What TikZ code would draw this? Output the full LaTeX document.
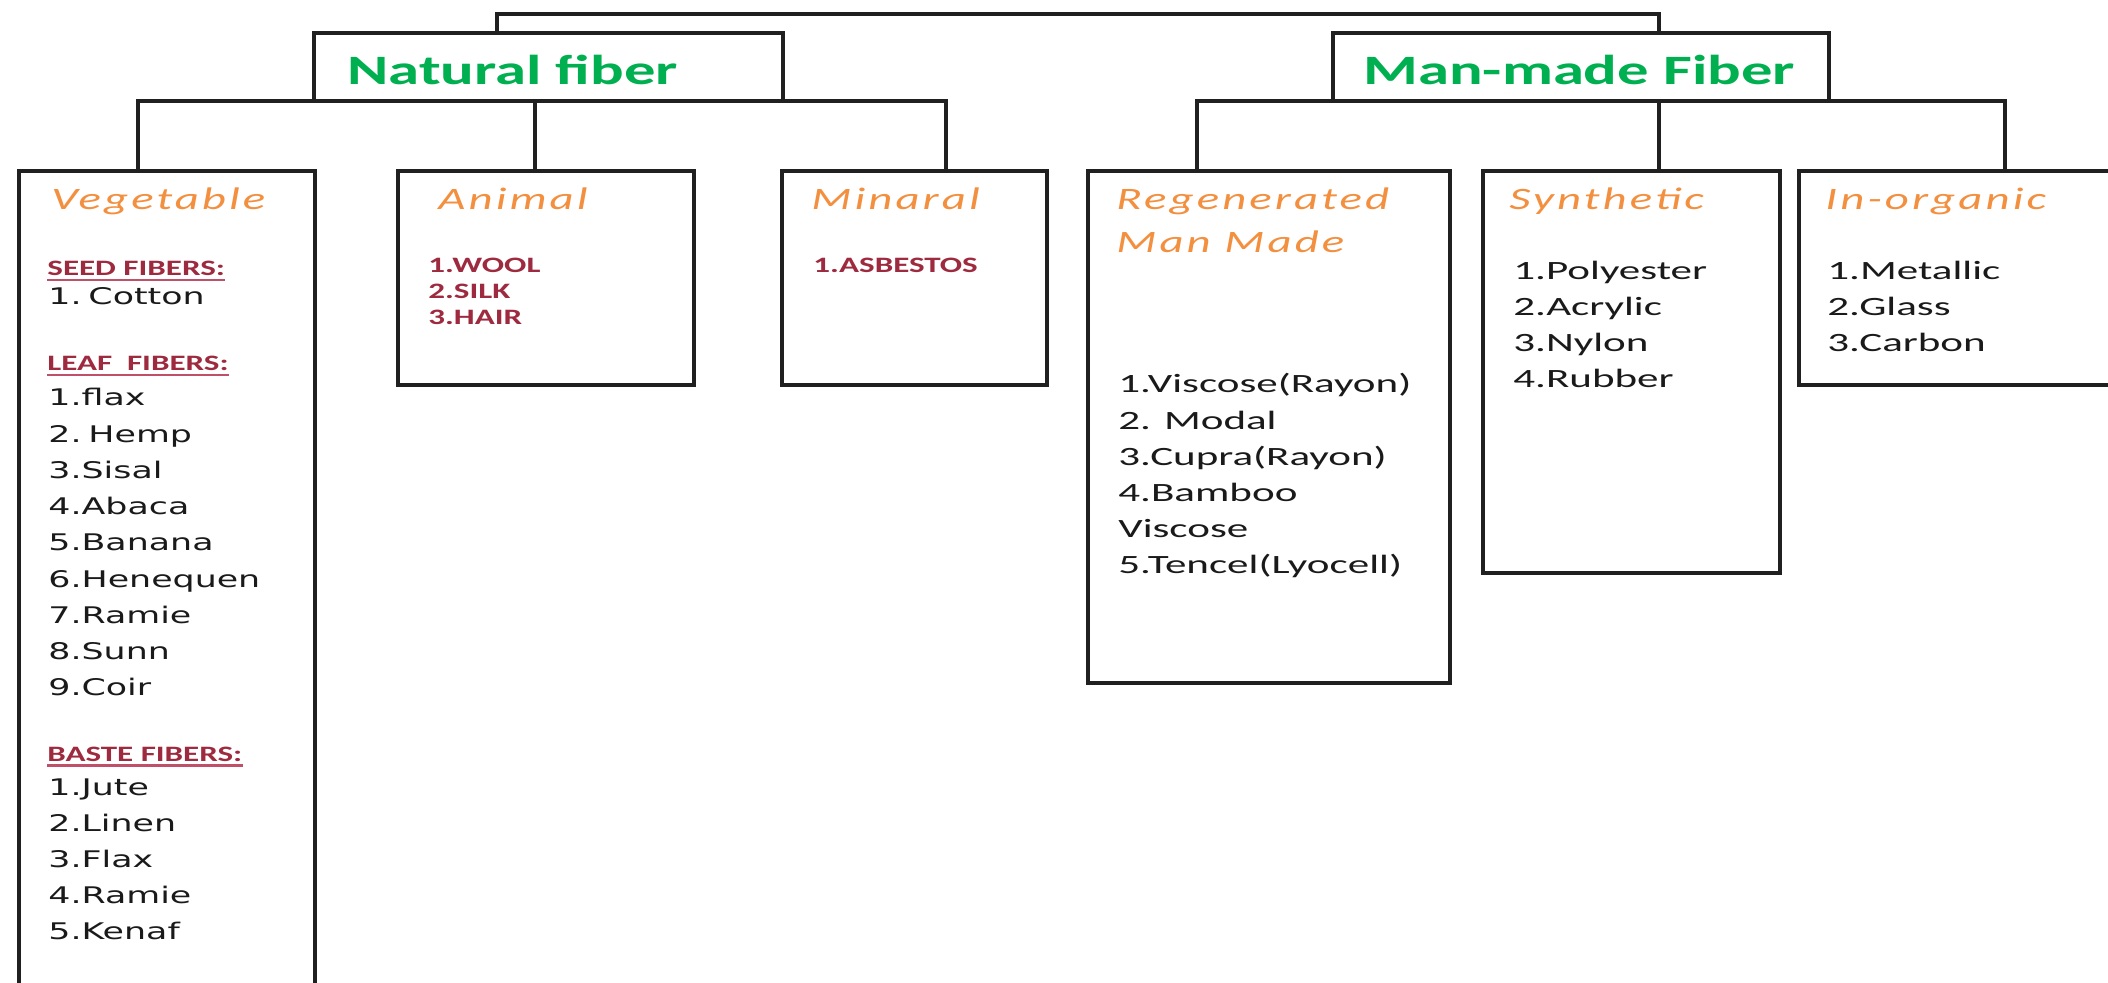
\documentclass[tikz,border=0pt]{standalone}
\usepackage{fontspec}
\newfontfamily\vegfont[FakeStretch=1.52]{DejaVu Sans}
\newfontfamily\listfont[FakeStretch=1.63]{Carlito}
\newfontfamily\boldfont[FakeStretch=1.5]{Carlito}
\newfontfamily\titlefont[FakeStretch=1.5,LetterSpace=10]{Carlito}
\definecolor{fgreen}{HTML}{00B050}
\definecolor{forange}{HTML}{F39040}
\definecolor{dred}{HTML}{9E2A3F}
\definecolor{ured}{HTML}{C0506A}
\definecolor{tblack}{HTML}{1A1A1A}
\definecolor{linec}{HTML}{202020}
\begin{document}
\begin{tikzpicture}[x=0.5pt,y=-0.5pt,
  box/.style={draw=linec, line width=1.9pt, inner sep=0pt, outer sep=0pt, anchor=north west, rectangle},
  conn/.style={draw=linec, line width=1.9pt},
  head/.style={anchor=base west, inner sep=0pt, text=fgreen, font=\boldfont\bfseries\fontsize{20.9}{24}\selectfont},
  ttl/.style={anchor=base west, inner sep=0pt, text=forange, font=\titlefont\itshape\fontsize{15.6}{18}\selectfont},
  sub/.style={anchor=base west, inner sep=0pt, text=dred, font=\boldfont\bfseries\fontsize{11}{13}\selectfont},
  vitem/.style={anchor=base west, inner sep=0pt, text=tblack, font=\vegfont\fontsize{11.45}{14}\selectfont},
  litem/.style={anchor=base west, inner sep=0pt, text=tblack, font=\listfont\fontsize{13.2}{16}\selectfont},
  uline/.style={draw=ured, line width=1.1pt},
]
\useasboundingbox (0,0) rectangle (2108,983);
\clip (0,0) rectangle (2108,983);
\fill[white] (0,0) rectangle (2108,983);

% boxes
\node[box, minimum width=234.5pt, minimum height=34pt] (natural) at (314,33) {};
\node[box, minimum width=248pt, minimum height=34pt] (manmade) at (1333,33) {};
\node[box, minimum width=148pt, minimum height=420pt] (veg) at (19,171) {};
\node[box, minimum width=148pt, minimum height=107pt] (animal) at (398,171) {};
\node[box, minimum width=132.5pt, minimum height=107pt] (mineral) at (782,171) {};
\node[box, minimum width=181pt, minimum height=256pt] (regen) at (1088,171) {};
\node[box, minimum width=148.5pt, minimum height=201pt] (synth) at (1483,171) {};
\node[box, minimum width=170pt, minimum height=107pt] (inorg) at (1799,171) {};

% connector points
\coordinate (top) at (0,14);
\coordinate (t1) at (497,33);
\coordinate (t2) at (1659,33);
\coordinate (d1) at (138,171);
\coordinate (d2) at (535,171);
\coordinate (d3) at (946,171);
\coordinate (e1) at (1197,171);
\coordinate (e2) at (1659,171);
\coordinate (e3) at (2005,171);

\draw[conn] (t1) -- (t1 |- top) -- (t2 |- top) -- (t2);
\draw[conn] (d1) -- (d1 |- natural.south) -- (d3 |- natural.south) -- (d3);
\draw[conn] (d2) -- (d2 |- natural.south);
\draw[conn] (e1) -- (e1 |- manmade.south) -- (e3 |- manmade.south) -- (e3);
\draw[conn] (e2) -- (e2 |- manmade.south);

% headings
\node[head] (hnat) at (347,85) {Natural fiber};
\node[head] (hman) at (1363,85) {Man-made Fiber};

% titles
\node[ttl] (tveg) at (51,210) {Vegetable};
\node[ttl] (tani) at (438,210) {Animal};
\node[ttl] (tmin) at (811,210) {Minaral};
\node[ttl] (treg) at (1116,210) {Regenerated};
\node[ttl] (treg2) at (1116,253) {Man Made};
\node[ttl] (tsyn) at (1509,210) {Synthetic};
\node[ttl] (tino) at (1825,210) {In-organic};

% vegetable list
\node[sub] (seed) at (47,276) {SEED FIBERS:};
\draw[uline] ([yshift=-2.2pt]seed.base west) -- ([yshift=-2.2pt]seed.base east);
\node[vitem] (cotton) at (48,305) {1.\kern0.3em Cotton};
\node[sub] (leaf) at (47,371) {LEAF\ \ FIBERS:};
\draw[uline] ([yshift=-2.2pt]leaf.base west) -- ([yshift=-2.2pt]leaf.base east);
\foreach \t [count=\i] in {1.flax, 2.\kern0.3em Hemp, 3.Sisal, 4.Abaca, 5.Banana, 6.Henequen, 7.Ramie, 8.Sunn, 9.Coir}
  \node[vitem] (leaf\i) at (48,{406+36.2*(\i-1)}) {\t};
\node[sub] (baste) at (47,761) {BASTE FIBERS:};
\draw[uline] ([yshift=-2.2pt]baste.base west) -- ([yshift=-2.2pt]baste.base east);
\foreach \t [count=\i] in {1.Jute, 2.Linen, 3.Flax, 4.Ramie, 5.Kenaf}
  \node[vitem] (baste\i) at (48,{795+36.05*(\i-1)}) {\t};

% animal
\foreach \t [count=\i] in {1.WOOL, 2.SILK, 3.HAIR}
  \node[sub] (ani\i) at (428,{273+26*(\i-1)}) {\t};
% mineral
\node[sub] (min1) at (813,273) {1.ASBESTOS};

% regenerated
\foreach \t [count=\i] in {1.Viscose(Rayon), 2. Modal, 3.Cupra(Rayon), 4.Bamboo, Viscose, 5.Tencel(Lyocell)}
  \node[litem] (reg\i) at (1118,{393+36.2*(\i-1)}) {\t};
% synthetic
\foreach \t [count=\i] in {1.Polyester, 2.Acrylic, 3.Nylon, 4.Rubber}
  \node[litem] (syn\i) at (1513,{280+36*(\i-1)}) {\t};
% inorganic
\foreach \t [count=\i] in {1.Metallic, 2.Glass, 3.Carbon}
  \node[litem] (ino\i) at (1827,{280+36*(\i-1)}) {\t};
\end{tikzpicture}
\end{document}
